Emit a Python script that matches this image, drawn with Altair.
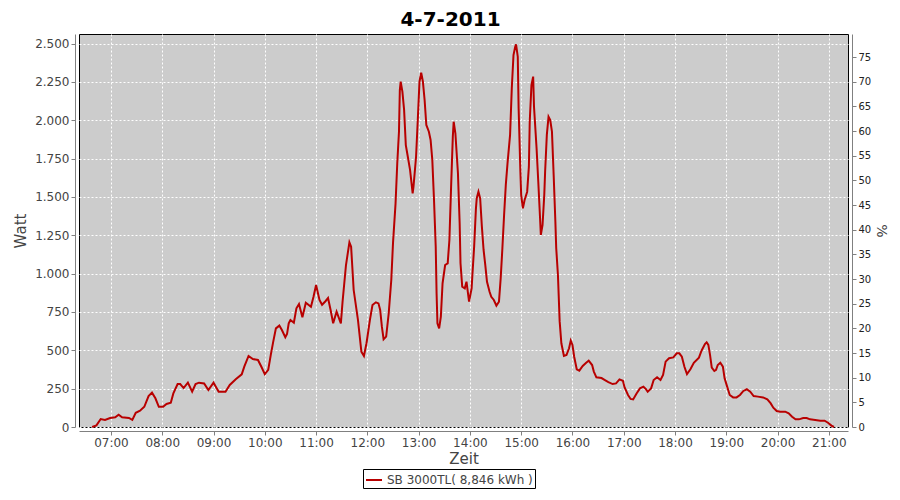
import altair as alt
import pandas as pd

times = ["06:38","06:43","06:48","06:53","06:59","07:05","07:09","07:13","07:21","07:25","07:29","07:34","07:39","07:44","07:48","07:52","07:56",
         "08:01","08:05","08:10","08:13","08:18","08:21","08:25","08:30","08:35","08:39","08:43","08:49","08:54",
         "09:00","09:06","09:14","09:19","09:26","09:33","09:36","09:41","09:46","09:52","09:56",
         "10:00","10:04","10:07","10:10","10:13","10:17","10:20","10:24","10:26","10:28","10:30","10:34","10:37","10:40","10:44","10:48","10:54","10:57",
         "11:00","11:04","11:07","11:11","11:14","11:17","11:20","11:24","11:29","11:31","11:35","11:39","11:41","11:44","11:49","11:53","11:56","11:59",
         "12:03","12:06","12:10","12:13","12:15","12:17","12:19","12:22","12:25","12:28","12:30","12:33","12:35","12:37","12:38","12:39","12:41","12:43","12:45","12:47","12:50","12:53","12:54","12:57","12:59",
         "13:01","13:03","13:05","13:07","13:09","13:12","13:14","13:16","13:18","13:20","13:21","13:22","13:24","13:26","13:28","13:31","13:34","13:36","13:38","13:40","13:41","13:43","13:46","13:48","13:49","13:51","13:54","13:56","13:59",
         "14:02","14:03","14:05","14:07","14:08","14:10","14:12","14:14","14:16","14:18","14:20","14:23","14:25","14:28","14:31","14:34","14:36","14:38","14:40","14:42","14:44","14:47","14:49","14:51","14:53","14:54","14:56","14:57","14:59",
         "15:00","15:02","15:04","15:07","15:09","15:10","15:12","15:14","15:15","15:18","15:20","15:22","15:23","15:25","15:27","15:28","15:30","15:32","15:34","15:36","15:38","15:40","15:41","15:43","15:45","15:47","15:50","15:53","15:56","15:58",
         "16:00","16:02","16:05","16:08","16:12","16:16","16:19","16:23","16:25","16:28","16:34","16:38","16:42","16:47","16:51","16:55","16:59",
         "17:01","17:05","17:08","17:11","17:15","17:19","17:23","17:26","17:28","17:32","17:35","17:39","17:43","17:46","17:49","17:53","17:58",
         "18:02","18:05","18:08","18:11","18:14","18:18","18:22","18:28","18:31","18:35","18:37","18:39","18:41","18:43","18:46","18:48","18:50","18:53","18:56","18:58",
         "19:01","19:04","19:08","19:12","19:16","19:20","19:24","19:28","19:32","19:37","19:43","19:48","19:52","19:55","19:59",
         "20:03","20:09","20:13","20:17","20:21","20:25","20:30","20:34","20:38","20:44","20:50","20:55","20:59",
         "21:03","21:06"]
watts = [0,11,52,46,59,63,80,63,59,46,93,106,132,202,224,187,132,
         132,150,158,219,280,280,254,289,230,280,289,284,241,
         289,230,230,274,311,343,393,463,443,437,393,
         345,372,470,560,643,661,632,585,606,676,698,680,774,802,715,810,784,849,
         926,828,797,820,841,763,676,752,676,817,1056,1204,1175,893,698,491,463,546,
         698,795,813,806,763,654,572,589,741,958,1197,1458,1719,1925,2197,2251,2186,2067,1838,1773,1675,1523,1567,1762,2001,
         2251,2310,2251,2132,1969,1925,1871,1741,1480,1175,872,676,643,719,937,1056,1067,1219,1567,1893,1990,1915,1654,1328,1067,915,904,947,817,
         904,1000,1180,1420,1491,1534,1491,1306,1154,1056,947,882,849,828,791,817,969,1165,1382,1578,1719,1904,2208,2425,2479,2495,2414,2078,1675,
         1512,1426,1480,1534,1697,1990,2229,2284,2088,1817,1599,1371,1252,1317,1512,1664,1904,2023,2001,1925,1643,1338,1165,991,690,546,463,469,513,563,
         535,458,376,367,398,419,432,404,361,324,319,306,293,280,284,310,301,
         258,209,183,180,219,252,263,246,230,252,306,324,306,339,426,448,454,
         480,480,458,393,345,376,419,452,497,541,552,535,469,387,365,372,404,419,393,317,
         263,209,193,193,209,235,246,230,202,198,193,180,154,126,104,
         100,100,89,67,50,50,59,59,50,46,41,41,28,
         9,0]

series_name = "SB 3000TL( 8,846 kWh )"
watt_ticks = [0, 250, 500, 750, 1000, 1250, 1500, 1750, 2000, 2250, 2500]
pct_ticks = [0, 5, 10, 15, 20, 25, 30, 35, 40, 45, 50, 55, 60, 65, 70, 75]
hour_ticks = list(range(7, 22))

df = pd.DataFrame({
    "t": ["2011-07-04T" + t + ":00" for t in times],
    "w": watts,
    "s": [series_name] * len(times),
})
pct_df = pd.DataFrame({"p": pct_ticks})

font = "DejaVu Sans"
gray = "#808080"
labc = "#444444"

x_dom = [alt.DateTime(year=2011, month=7, date=4, hours=6, minutes=22, seconds=36),
         alt.DateTime(year=2011, month=7, date=4, hours=21, minutes=22, seconds=24)]
x_vals = [alt.DateTime(year=2011, month=7, date=4, hours=h, minutes=0) for h in hour_ticks]

line = alt.Chart(df).mark_line(strokeWidth=2, interpolate="linear").encode(
    x=alt.X("t:T", title="Zeit",
            scale=alt.Scale(domain=x_dom, nice=False),
            axis=alt.Axis(values=x_vals, format="%H:%M", offset=4, grid=True,
                          gridColor="white", gridDash=[2, 2], gridOpacity=1, gridWidth=1,
                          domainColor=gray, tickColor=gray, tickSize=4,
                          labelColor=labc, labelFontSize=12, labelFont=font, labelPadding=2,
                          titleFont=font, titleFontSize=15, titleColor=labc,
                          titleFontWeight="normal", titlePadding=3, labelFlush=False)),
    y=alt.Y("w:Q", title="Watt",
            scale=alt.Scale(domain=[0, 2562], nice=False, zero=True),
            axis=alt.Axis(values=watt_ticks, offset=4, grid=True,
                          labelExpr="replace(format(datum.value, ','), ',', '.')",
                          gridColor="white", gridDash=[2, 2], gridOpacity=1, gridWidth=1,
                          domainColor=gray, tickColor=gray, tickSize=4,
                          labelColor=labc, labelFontSize=12, labelFont=font, labelPadding=2,
                          titleFont=font, titleFontSize=15, titleColor=labc,
                          titleFontWeight="normal", titlePadding=6, labelFlush=False)),
    color=alt.Color("s:N", scale=alt.Scale(domain=[series_name], range=["#B80000"]),
                    legend=alt.Legend(title=None, orient="none", legendX=284, legendY=435,
                                      strokeColor="black", fillColor="white", padding=2,
                                      symbolType="stroke", symbolSize=256, symbolStrokeWidth=2,
                                      labelFont=font, labelFontSize=12, labelColor=labc,
                                      cornerRadius=0, symbolOffset=0)),
)

right = alt.Chart(pct_df).mark_point(opacity=0).encode(
    y=alt.Y("p:Q", title="%",
            scale=alt.Scale(domain=[0, 79.7], nice=False, zero=True),
            axis=alt.Axis(values=pct_ticks, orient="right", offset=4, grid=False,
                          domainColor=gray, tickColor=gray, tickSize=4,
                          labelColor="#222222", labelFontSize=10, labelFont=font, labelPadding=2,
                          titleFont=font, titleFontSize=14, titleColor=labc,
                          titleFontWeight="normal", titlePadding=3, labelFlush=False)),
)

chart = alt.layer(line, right).resolve_scale(y="independent").properties(
    width=769, height=393,
    autosize=alt.AutoSizeParams(type="none"),
    padding={"left": 71, "top": 26, "right": 44, "bottom": 65},
    title=alt.TitleParams("4-7-2011", font=font, fontSize=20, fontWeight="bold",
                          color="black", anchor="middle", dx=-13, offset=4),
).configure_view(fill="#CCCCCC", stroke="black", strokeWidth=1)

chart.save("out.html", embed_options={"renderer": "svg", "actions": False})
